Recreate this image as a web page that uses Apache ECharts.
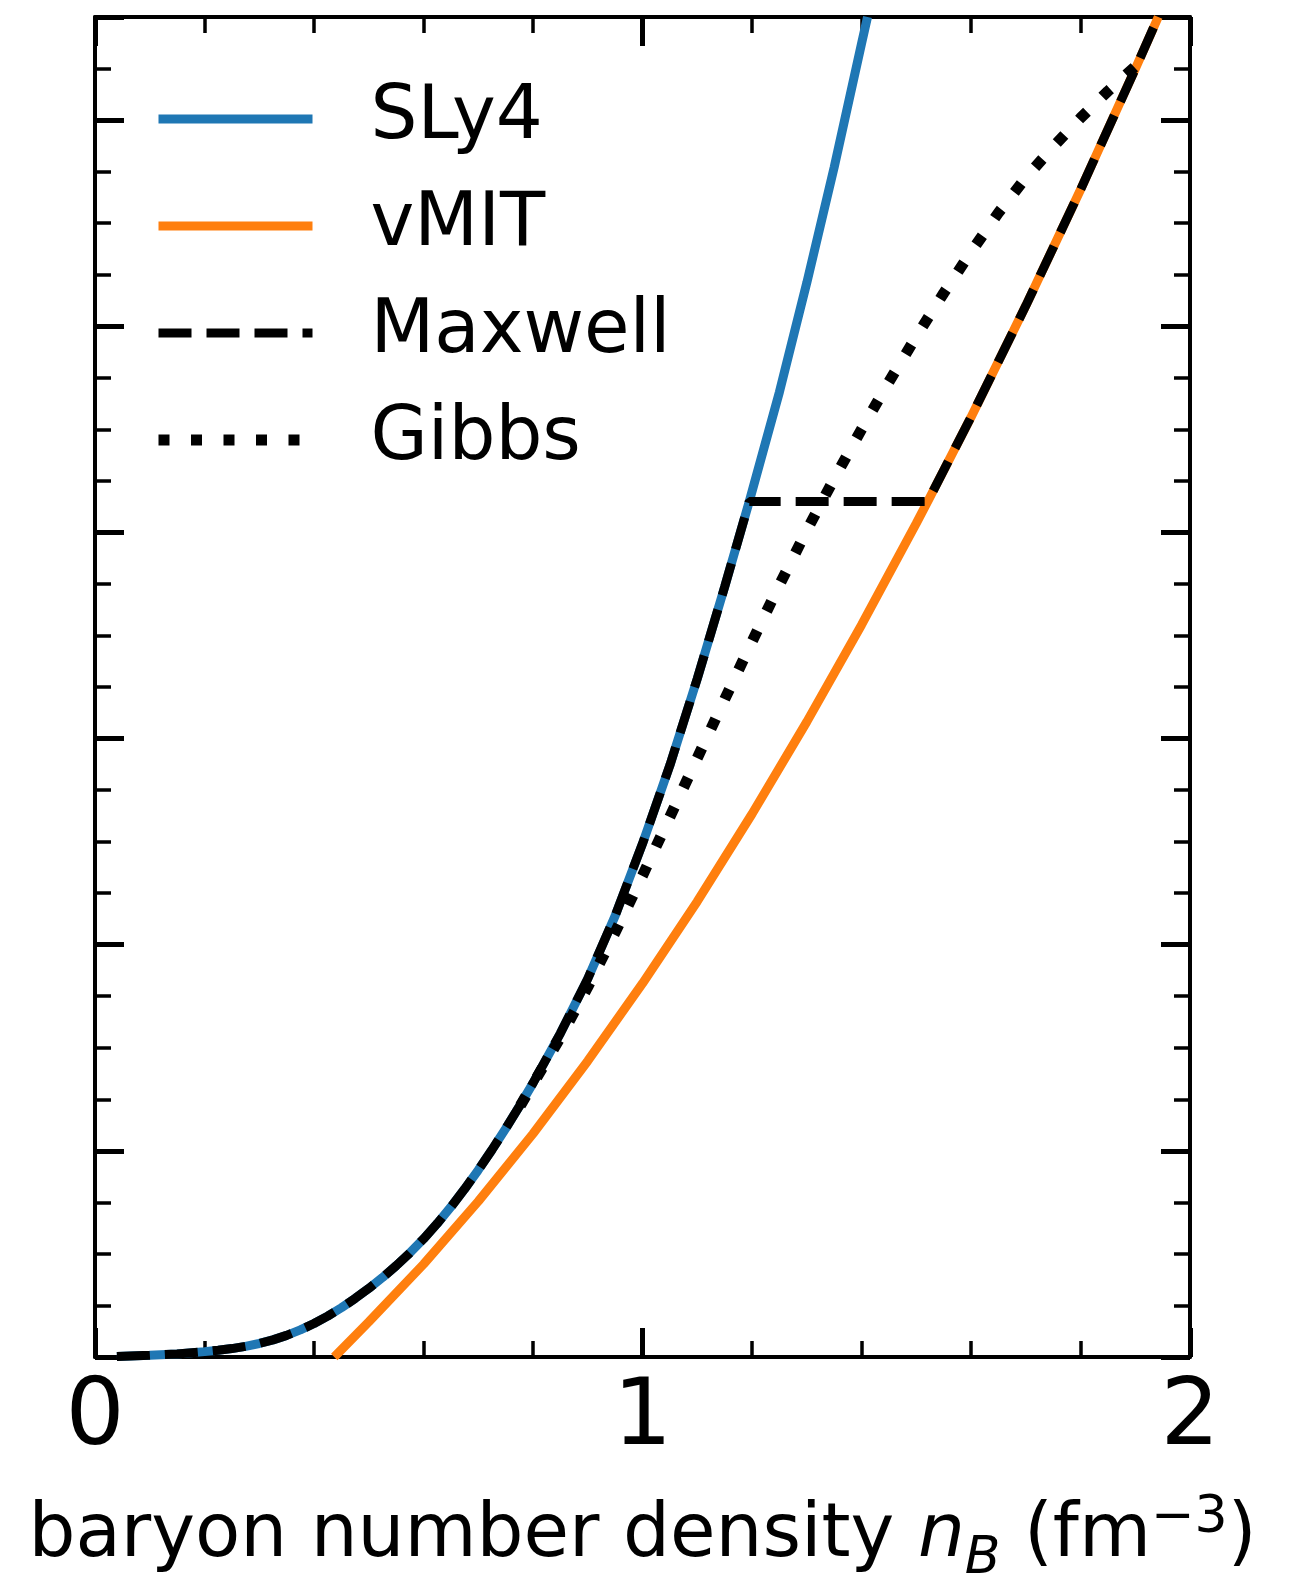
<!DOCTYPE html>
<html>
<head>
<meta charset="utf-8">
<script src="https://cdn.jsdelivr.net/npm/echarts@6/dist/echarts.min.js"></script>
<style>
html,body{margin:0;padding:0;background:#fff;}
#chart{width:1308px;height:1585px;}
</style>
</head>
<body>
<div id="chart"></div>
<script>
// ---- data (x: n_B in fm^-3, y: arbitrary units, axis 0..650) ----
const seriesNames = ['SLy4', 'vMIT', 'Maxwell', 'Gibbs'];
const xTickValues = [0, 1, 2];

const sly4 = [
  [0.04,0.3],[0.1,0.8],[0.15,1.5],[0.2,2.6],[0.225,3.24],[0.25,4.08],[0.275,5.17],[0.3,6.56],
  [0.325,8.31],[0.35,10.49],[0.375,13.13],[0.4,16.24],[0.425,19.83],[0.45,23.89],[0.475,28.38],
  [0.5,33.24],[0.525,38.52],[0.55,44.25],[0.575,50.48],[0.6,57.29],[0.625,64.73],[0.65,72.79],
  [0.675,81.45],[0.7,90.68],[0.725,100.46],[0.75,110.76],[0.775,121.56],[0.8,132.86],
  [0.85,157],[0.9,183.5],[0.95,214],[1.0,249],[1.05,287],[1.1,329],[1.15,373.5],[1.195,415],
  [1.25,468],[1.3,521],[1.35,577],[1.4,637],[1.411,650]
];

const vmit = [
  [0.437,0],[0.5,17],[0.6,45],[0.7,75.5],[0.8,108.3],[0.9,143.6],[1.0,181.2],
  [1.1,221],[1.2,263.4],[1.3,308.1],[1.4,355.1],[1.5,404.4],[1.521,415],[1.6,455.9],
  [1.7,509.9],[1.8,566.2],[1.9,624.8],[1.942,650]
];

const maxwell = [
  [0.04,0.3],[0.1,0.8],[0.15,1.5],[0.2,2.6],[0.225,3.24],[0.25,4.08],[0.275,5.17],[0.3,6.56],
  [0.325,8.31],[0.35,10.49],[0.375,13.13],[0.4,16.24],[0.425,19.83],[0.45,23.89],[0.475,28.38],
  [0.5,33.24],[0.525,38.52],[0.55,44.25],[0.575,50.48],[0.6,57.29],[0.625,64.73],[0.65,72.79],
  [0.675,81.45],[0.7,90.68],[0.725,100.46],[0.75,110.76],[0.775,121.56],[0.8,132.86],
  [0.85,157],[0.9,183.5],[0.95,214],[1.0,249],[1.05,287],[1.1,329],[1.15,373.5],[1.195,415],
  [1.521,415],[1.6,455.9],[1.7,509.9],[1.8,566.2],[1.9,624.8],[1.942,650]
];

const gibbs = [
  [0.777,122],[0.8,132.5],[0.85,155],[0.9,179.5],[0.95,206],[1.0,233.5],[1.05,262],
  [1.1,290.5],[1.15,319],[1.2,347],[1.25,374.5],[1.3,401],[1.35,426],[1.4,450],
  [1.45,473],[1.5,495],[1.55,516],[1.6,536],[1.65,555],[1.7,572],[1.75,587],
  [1.8,601],[1.85,614],[1.9,626],[1.905,628]
];

// ---- chart ----
const FONT = 'DejaVu Sans';
const chart = echarts.init(document.getElementById('chart'), null, {renderer: 'canvas'});

function xAxisDef(pos, withLabels) {
  return {
    type: 'value', position: pos, min: 0, max: 2, interval: 1,
    axisLine: {show: true, onZero: false, lineStyle: {color: '#000', width: 4}},
    axisTick: {show: true, inside: true, length: 29, lineStyle: {color: '#000', width: 5}},
    minorTick: {show: true, splitNumber: 5, length: 16, lineStyle: {color: '#000', width: 3.5}},
    axisLabel: withLabels ? {
      show: true, fontSize: 93, fontFamily: FONT, color: '#000', margin: 16,
      showMinLabel: true, showMaxLabel: true, hideOverlap: false,
      formatter: v => (xTickValues.indexOf(v) >= 0 ? String(v) : '')
    } : {show: false},
    splitLine: {show: false}, minorSplitLine: {show: false}
  };
}
function yAxisDef(pos, interval, len, width, showLine) {
  return {
    type: 'value', position: pos, min: 0, max: 650, interval: interval,
    axisLine: {show: showLine, onZero: false, lineStyle: {color: '#000', width: 4}},
    axisTick: {show: true, inside: true, length: len, lineStyle: {color: '#000', width: width}},
    axisLabel: {show: false},
    splitLine: {show: false}
  };
}

const xBottom = xAxisDef('bottom', true);
xBottom.name = '{a|baryon number density }{i|n}{s|B}{a| (fm}{p|\u22123}{a|)}';
xBottom.nameLocation = 'middle';
xBottom.nameGap = 140;
xBottom.nameTextStyle = {
  fontFamily: FONT, fontSize: 74, color: '#000',
  rich: {
    a: {fontFamily: FONT, fontSize: 74, color: '#000', lineHeight: 80},
    i: {fontFamily: FONT, fontSize: 74, color: '#000', fontStyle: 'italic', lineHeight: 80},
    s: {fontFamily: FONT, fontSize: 52, color: '#000', fontStyle: 'italic', height: 35, lineHeight: 35, verticalAlign: 'bottom'},
    p: {fontFamily: FONT, fontSize: 52, color: '#000', height: 43, lineHeight: 43, verticalAlign: 'top'}
  }
};

const option = {
  animation: false,
  backgroundColor: '#fff',
  textStyle: {fontFamily: FONT},
  grid: {left: 95, top: 17, width: 1095, height: 1340, containLabel: false, outerBoundsMode: 'none'},
  legend: {
    data: seriesNames,
    orient: 'vertical', left: 153, top: 82, padding: 0,
    itemGap: 33, itemWidth: 154, itemHeight: 2,
    selectedMode: false,
    itemStyle: {opacity: 0},
    lineStyle: {width: 'inherit'},
    textStyle: {fontFamily: FONT, fontSize: 74, color: '#000', padding: [0, 0, 0, 53]}
  },
  xAxis: [xBottom, xAxisDef('top', false)],
  yAxis: [
    yAxisDef('left', 100, 29, 5, true),
    yAxisDef('left', 25, 16, 3.5, false),
    yAxisDef('right', 100, 29, 5, true),
    yAxisDef('right', 25, 16, 3.5, false)
  ],
  series: [
    {name: 'SLy4', type: 'line', data: sly4, symbol: 'none', z: 2,
     lineStyle: {color: '#1f77b4', width: 9}, itemStyle: {color: '#1f77b4'}},
    {name: 'vMIT', type: 'line', data: vmit, symbol: 'none', z: 2,
     lineStyle: {color: '#ff7f0e', width: 9}, itemStyle: {color: '#ff7f0e'}},
    {name: 'Maxwell', type: 'line', data: maxwell, symbol: 'none', z: 3,
     lineStyle: {color: '#000', width: 9, type: [33, 15], cap: 'butt'}, itemStyle: {color: '#000'}},
    {name: 'Gibbs', type: 'line', data: gibbs, symbol: 'none', z: 4,
     lineStyle: {color: '#000', width: 11, type: [11, 21.5], cap: 'butt'}, itemStyle: {color: '#000'}}
  ]
};
chart.setOption(option);
</script>
</body>
</html>
